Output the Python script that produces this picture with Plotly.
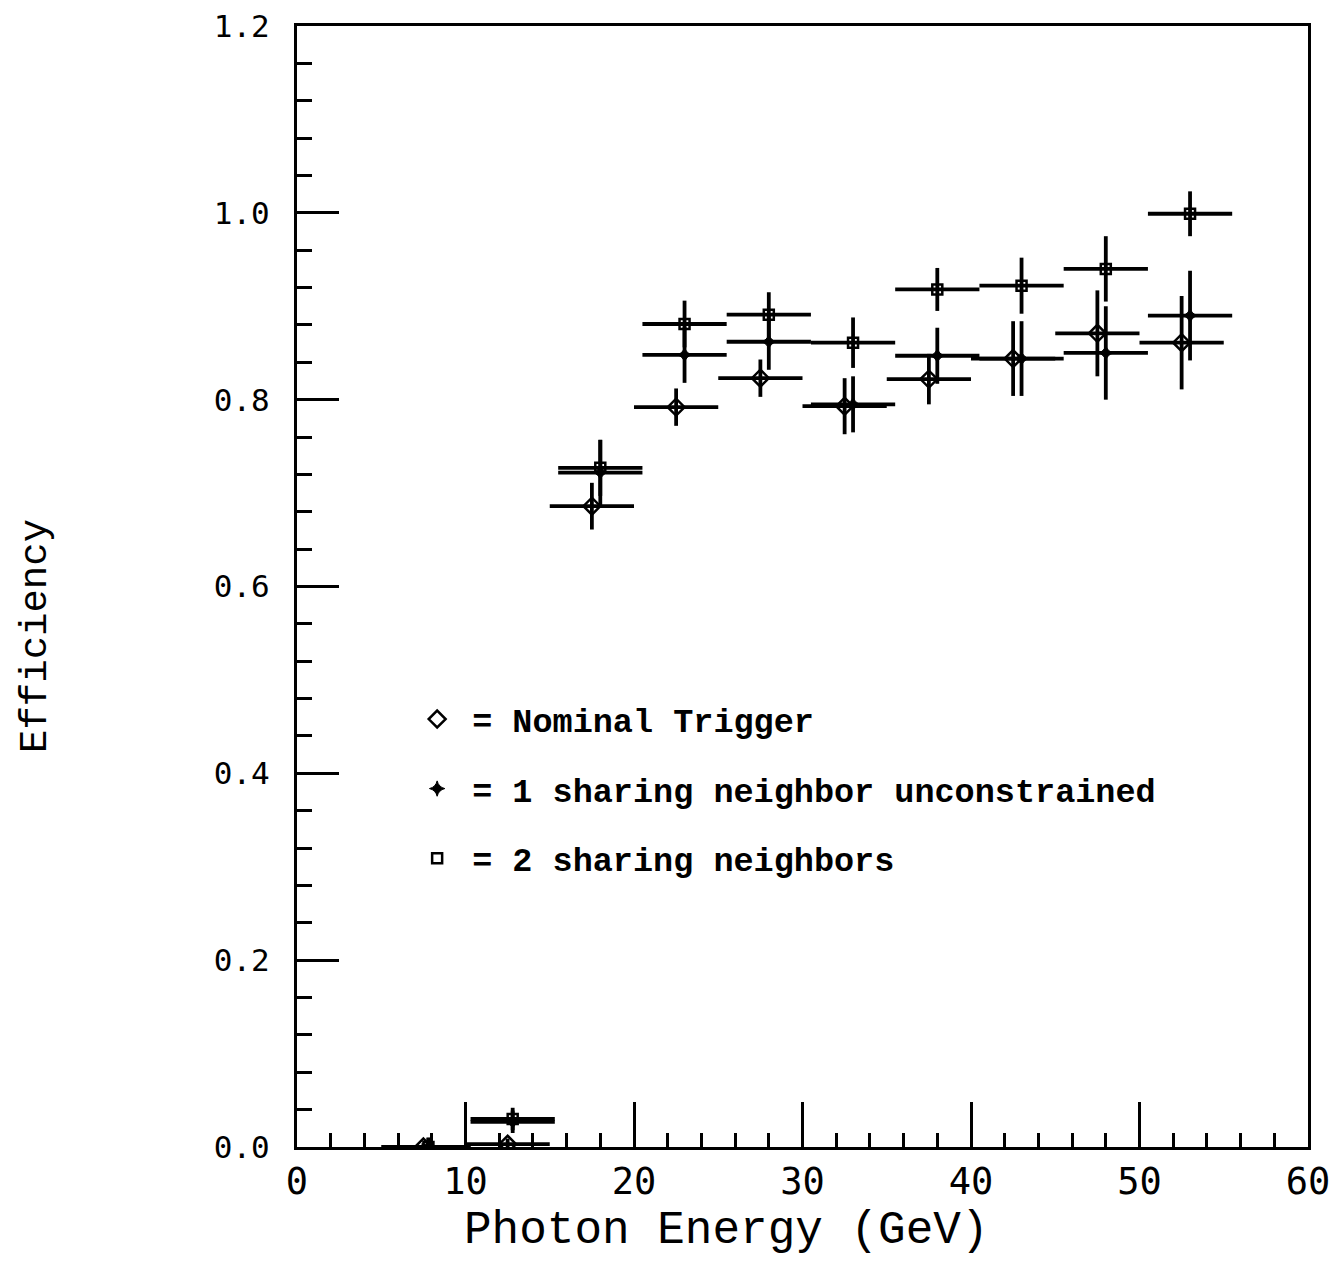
import plotly.graph_objects as go

# ---- data ----
# Nominal Trigger
nom_x = [7.5, 12.5, 17.5, 22.5, 27.5, 32.5, 37.5, 42.5, 47.5, 52.5]
nom_y = [0.000, 0.003, 0.686, 0.792, 0.823, 0.793, 0.822, 0.844, 0.871, 0.861]
nom_ey = [0.004, 0.006, 0.025, 0.020, 0.020, 0.030, 0.027, 0.040, 0.046, 0.050]

# 1 sharing neighbor unconstrained
one_x = [7.8, 12.8, 18.0, 23.0, 28.0, 33.0, 38.0, 43.0, 48.0, 53.0]
one_y = [0.000, 0.027, 0.722, 0.848, 0.862, 0.795, 0.847, 0.844, 0.850, 0.890]
one_ey = [0.010, 0.012, 0.035, 0.030, 0.030, 0.030, 0.030, 0.040, 0.050, 0.048]

# 2 sharing neighbors
two_x = [7.8, 12.8, 18.0, 23.0, 28.0, 33.0, 38.0, 43.0, 48.0, 53.0]
two_y = [0.000, 0.030, 0.727, 0.881, 0.891, 0.861, 0.918, 0.922, 0.940, 0.999]
two_ey = [0.010, 0.012, 0.030, 0.025, 0.024, 0.027, 0.023, 0.030, 0.035, 0.024]

bin_half_width = 2.5

names = ["= Nominal Trigger", "= 1 sharing neighbor unconstrained", "= 2 sharing neighbors"]

x_tick_vals = [0, 10, 20, 30, 40, 50, 60]
x_tick_text = ["0", "10", "20", "30", "40", "50", "60"]
y_tick_vals = [0.0, 0.2, 0.4, 0.6, 0.8, 1.0, 1.2]
y_tick_text = ["0.0", "0.2", "0.4", "0.6", "0.8", "1.0", "1.2"]

x_title = "Photon Energy (GeV)"
y_title = "Efficiency"

EB = dict(type="constant", value=bin_half_width, color="black", thickness=3.8, width=0)

fig = go.Figure()

series = [
    (nom_x, nom_y, nom_ey, dict(symbol="diamond-open", size=13, color="black",
                                line=dict(color="black", width=2.5))),
    (one_x, one_y, one_ey, dict(symbol="star-diamond", size=11, color="black",
                                line=dict(color="black", width=1))),
    (two_x, two_y, two_ey, dict(symbol="square-open", size=10, color="black",
                                line=dict(color="black", width=2.5))),
]

for i, (xs, ys, eys, mk) in enumerate(series):
    fig.add_trace(go.Scatter(
        x=xs, y=ys, mode="markers", name=names[i], legendgroup=f"g{i}",
        marker=mk,
        error_x=EB,
        error_y=dict(type="data", array=eys, color="black", thickness=3.8, width=0),
        cliponaxis=True,
    ))

# page has an 8px body margin: figure is sized/placed to compensate
fig.update_layout(
    width=1323, height=1248,
    margin=dict(l=289, r=23, t=18, b=109),
    paper_bgcolor="white", plot_bgcolor="white",
    showlegend=True,
    legend=dict(
        x=0.104, y=0.407, xanchor="left", yanchor="top",
        bgcolor="rgba(0,0,0,0)", borderwidth=0,
        font=dict(family="Liberation Mono", size=33.5, color="black", weight="bold"),
        tracegroupgap=23, traceorder="grouped", itemwidth=60,
    ),
    annotations=[
        dict(text=x_title, xref="paper", yref="paper", x=0.4253, y=-0.0751,
             xanchor="center", yanchor="middle", showarrow=False,
             font=dict(family="Liberation Mono", size=46, color="black")),
        dict(text=y_title, xref="paper", yref="paper", x=-0.258, y=0.456,
             xanchor="center", yanchor="middle", showarrow=False, textangle=-90,
             font=dict(family="Liberation Mono", size=39, color="black")),
    ],
)

fig.update_xaxes(
    range=[0, 60], tickmode="array", tickvals=x_tick_vals, ticktext=x_tick_text,
    ticks="inside", ticklen=45, tickwidth=2.5, tickcolor="black",
    minor=dict(dtick=2, tick0=0, ticks="inside", ticklen=14, tickwidth=2.5, tickcolor="black"),
    showline=True, linewidth=3, linecolor="black", mirror=True,
    showgrid=False, zeroline=False,
    tickfont=dict(family="DejaVu Sans Mono", size=37, color="black"),
    ticklabeloverflow="allow",
    automargin=False,
)

fig.update_yaxes(
    range=[0, 1.2], tickmode="array", tickvals=y_tick_vals, ticktext=y_tick_text,
    ticks="inside", ticklen=42, tickwidth=2.5, tickcolor="black",
    minor=dict(dtick=0.04, tick0=0, ticks="inside", ticklen=15, tickwidth=2.5, tickcolor="black"),
    showline=True, linewidth=3, linecolor="black", mirror=True,
    showgrid=False, zeroline=False,
    tickfont=dict(family="DejaVu Sans Mono", size=31, color="black"),
    ticklabelstandoff=18, ticklabeloverflow="allow",
    automargin=False,
)

fig.write_html("out.html")
